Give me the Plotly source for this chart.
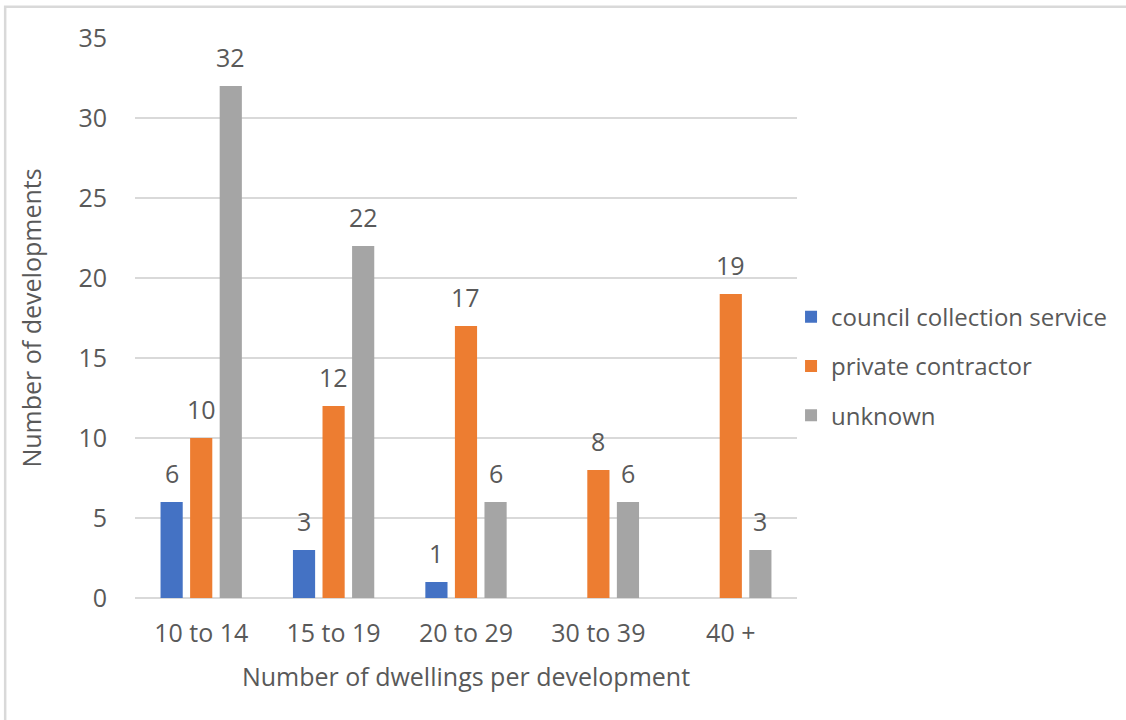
import plotly.graph_objects as go

categories = ["10 to 14", "15 to 19", "20 to 29", "30 to 39", "40 +"]
council = [6, 3, 1, None, None]
private = [10, 12, 17, 8, 19]
unknown = [32, 22, 6, 6, 3]

series = [
    ("council collection service", council, "#4472C4"),
    ("private contractor", private, "#ED7D31"),
    ("unknown", unknown, "#A5A5A5"),
]

FONT = "Open Sans"
TXT = "#595959"
FS = 25
BARGAP = 0.33

fig = go.Figure()
for i, (name, vals, color) in enumerate(series):
    fig.add_trace(go.Bar(
        x=categories, y=vals, name=name,
        marker=dict(color=color, line=dict(width=0)),
        legendgroup=f"g{i}",
    ))

# value labels above each bar, centred on the bar's slot within its group
n = len(series)
slot = (1 - BARGAP) / n
annotations = []
for i, (name, vals, color) in enumerate(series):
    for k, v in enumerate(vals):
        if v is None:
            continue
        annotations.append(dict(
            x=k + (i - (n - 1) / 2) * slot, y=v, xref="x", yref="y",
            text=str(v), showarrow=False, yanchor="bottom", yshift=10,
            font=dict(family=FONT, size=FS, color=TXT),
        ))

fig.update_layout(
    width=1126, height=720,
    paper_bgcolor="white", plot_bgcolor="white",
    margin=dict(l=135, r=0, t=38, b=122),
    barmode="group", bargap=BARGAP, bargroupgap=0.25,
    font=dict(family=FONT, size=FS, color=TXT),
    showlegend=True,
    legend=dict(
        x=0.662, y=0.414, xanchor="left", yanchor="middle",
        font=dict(family=FONT, size=24, color=TXT),
        tracegroupgap=15, itemwidth=30,
        bgcolor="rgba(0,0,0,0)",
    ),
    xaxis=dict(
        domain=[0, 0.668],
        title=dict(text="Number of dwellings per development",
                   font=dict(family=FONT, size=FS, color=TXT), standoff=20),
        tickfont=dict(family=FONT, size=FS, color=TXT),
        showgrid=False, showline=False, ticks="",
        ticklabelstandoff=18,
    ),
    yaxis=dict(
        title=dict(text="Number of developments",
                   font=dict(family=FONT, size=FS, color=TXT), standoff=29),
        range=[0, 35], dtick=5,
        tickfont=dict(family=FONT, size=FS, color=TXT),
        showgrid=True, gridcolor="#D9D9D9", gridwidth=2,
        zeroline=True, zerolinecolor="#D9D9D9", zerolinewidth=2,
        showline=False, ticks="", ticklabelstandoff=27,
    ),
    annotations=annotations,
    shapes=[dict(
        type="rect", xref="paper", yref="paper",
        x0=-0.131, x1=1.2, y0=-0.5, y1=1.056,
        line=dict(color="#D9D9D9", width=2.5), fillcolor="rgba(0,0,0,0)",
        layer="below",
    )],
)

fig.write_html("out.html")
